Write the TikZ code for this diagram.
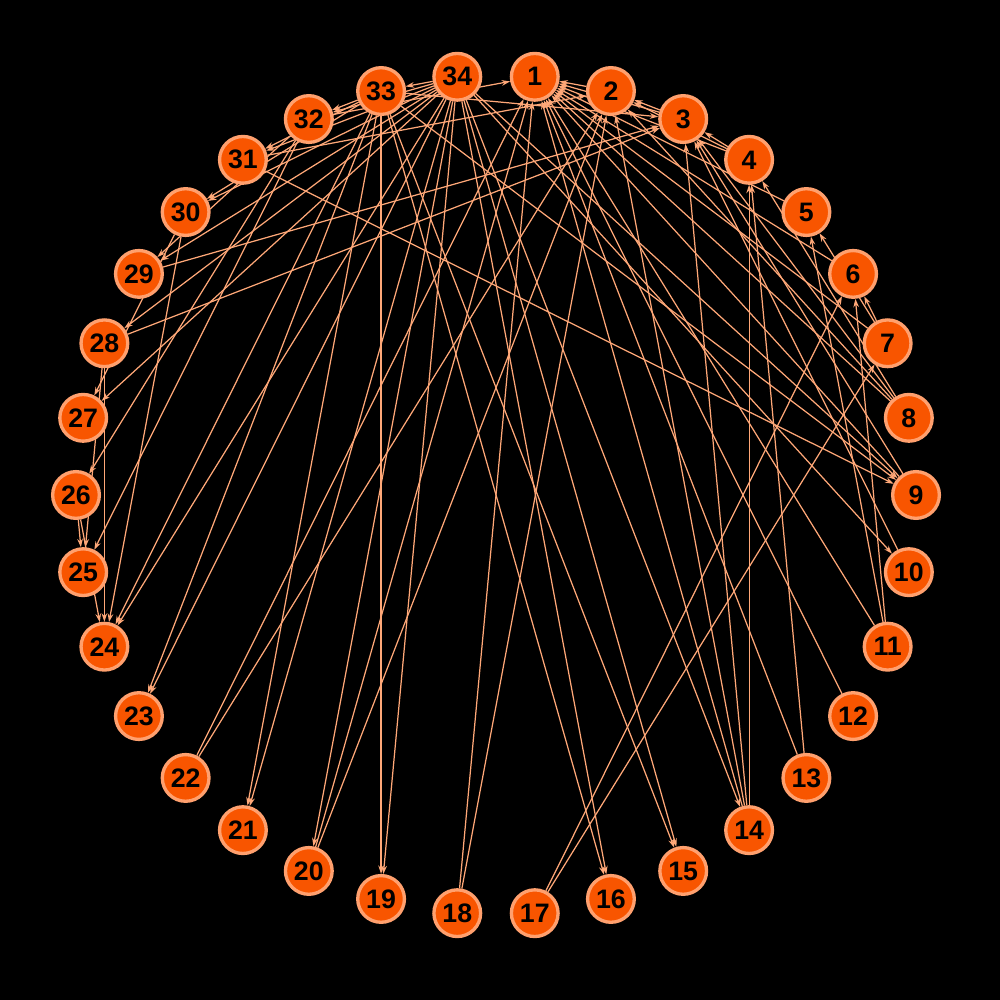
\documentclass[tikz,border=0pt]{standalone}
\usepackage{fontspec}
\setmainfont{Liberation Sans}
\usetikzlibrary{arrows.meta}
\pgfdeclarelayer{back}
\pgfdeclarelayer{bg}
\pgfsetlayers{back,bg,main}
\definecolor{nodefill}{RGB}{248,85,0}
\definecolor{nodeline}{RGB}{255,160,110}
\definecolor{edgecol}{RGB}{255,168,120}
\begin{document}
\begin{tikzpicture}[
  vtx/.style={circle, draw=nodeline, fill=nodefill, line width=0.95pt, minimum size=4.67mm, inner sep=0pt, font=\fontsize{7.6}{8}\selectfont\bfseries, text=black},
  conn/.style={draw=edgecol, line width=0.35pt, -{Stealth[length=2.4pt,width=1.6pt]}}
]
\begin{pgfonlayer}{back}
\fill[black] (0,0) rectangle (10,10);
\end{pgfonlayer}
\useasboundingbox (0,0) rectangle (10,10);
\foreach \k in {1,...,34} {
  \node[vtx] (n\k) at ({4.96+4.20*cos(90-(\k-0.5)*360/34)},{5.05+4.20*sin(90-(\k-0.5)*360/34)}) {\k};
}
\begin{pgfonlayer}{bg}
\foreach \s/\t in {2/1,3/1,3/2,4/1,4/2,4/3,5/1,6/1,7/1,7/5,7/6,8/1,8/2,8/3,8/4,9/1,9/3,10/3,11/1,11/5,11/6,12/1,13/1,13/4,14/1,14/2,14/3,14/4,17/6,17/7,18/1,18/2,20/1,20/2,22/1,22/2,26/24,26/25,28/3,28/24,28/25,29/3,30/24,30/27,31/2,31/9,32/1,32/25,32/26,32/29,33/3,33/9,33/15,33/16,33/19,33/21,33/23,33/24,33/30,33/31,33/32,34/9,34/10,34/14,34/15,34/16,34/19,34/20,34/21,34/23,34/24,34/27,34/28,34/29,34/30,34/31,34/32,34/33}
  \draw[conn] (n\s) -- (n\t);
\end{pgfonlayer}
\end{tikzpicture}
\end{document}
